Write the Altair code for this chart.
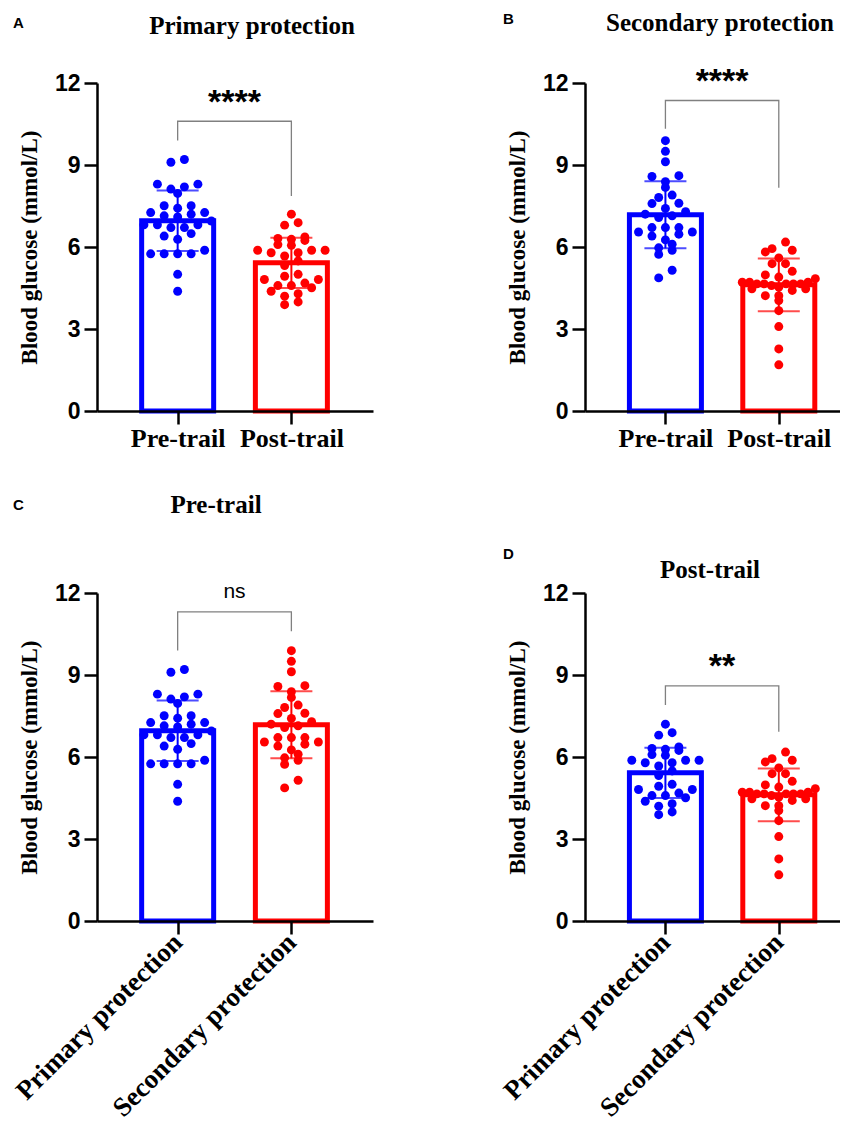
import altair as alt
import pandas as pd
import numpy as np

# ---------------- data ----------------
primary_pre = [9.20, 9.10, 8.20, 8.30, 8.30, 8.12, 7.96, 7.42, 7.51, 7.26, 7.20, 7.51, 7.26,
               7.14, 7.10, 6.71, 6.81, 6.95, 6.81, 6.81, 6.71, 6.28, 6.40, 6.49, 5.88, 5.75,
               5.75, 5.75, 5.75, 5.00, 4.38]
primary_post = [7.20, 6.89, 6.80, 6.37, 6.28, 6.31, 6.24, 6.09, 6.06, 5.88, 5.88, 5.88, 5.79,
                5.79, 5.67, 5.49, 5.32, 5.00, 4.93, 4.81, 4.68, 4.59, 4.59, 4.81, 4.51, 4.38,
                4.20, 4.29, 3.89, 3.99]
secondary_pre = [9.89, 9.50, 9.12, 8.61, 8.58, 8.39, 8.18, 7.90, 7.81, 7.60, 7.59, 7.41, 7.29,
                 7.14, 7.08, 6.71, 6.71, 6.71, 6.55, 6.55, 6.40, 6.47, 6.26, 6.10, 5.88, 5.97,
                 5.73, 5.15, 4.87, 7.20]
secondary_post = [6.18, 5.88, 5.94, 5.82, 5.60, 5.39, 5.39, 5.11, 4.98, 4.84, 4.90, 4.71, 4.65,
                  4.65, 4.65, 4.71, 4.65, 4.71, 4.65, 4.59, 4.47, 4.47, 4.53, 4.41, 4.22, 4.22,
                  4.04, 3.67, 3.09, 2.27, 1.69]

panel_letters = ["A", "B", "C", "D"]
panel_titles = ["Primary protection", "Secondary protection", "Pre-trail", "Post-trail"]
trial_groups = ["Pre-trail", "Post-trail"]
protection_groups = ["Primary protection", "Secondary protection"]
panel_groups = [trial_groups, trial_groups, protection_groups, protection_groups]
panel_series = [(primary_pre, primary_post), (secondary_pre, secondary_post),
                (primary_pre, secondary_pre), (primary_post, secondary_post)]
sig_labels = ["****", "****", "ns", "**"]
bracket_top = [10.60, 11.36, 11.31, 8.60]
bracket_left = [9.90, 10.33, 9.90, 7.90]
bracket_right = [7.87, 8.17, 10.60, 6.92]
sig_y = [10.92, 11.66, 11.82, 8.92]
y_ticks = [0, 3, 6, 9, 12]
colors = ["#0000FF", "#FF0000"]
y_title = "Blood glucose (mmol/L)"

# ---------------- layout / style ----------------
W_LEFT, W_RIGHT, H = 276, 255, 328
STEP = 118.0          # px between the two group centres
PAD_L = 78.5          # px from the y axis to the first group centre
BW = 72.0             # bar width (px)
PPU = H / 12.0
ROW = 9.5             # px height of a swarm row
DX = 14.0             # px horizontal spacing of dots in a row
MAXW = 76.0           # max swarm width (px)

title_x = [155, 135, 119, 125]
title_y = [-49, -52, -80, -15]
letter_x = [-84, -82, -84, -82]
letter_y = [-55, -59, -83, -34]

SERIF = "Liberation Serif"
SANS = "Liberation Sans"


def swarm(values):
    """Row-binned dot layout (GraphPad style): horizontal pixel offsets."""
    vals = np.asarray(values, dtype=float)
    bins = np.floor(vals * PPU / ROW).astype(int)
    offs = np.zeros(len(vals))
    for b in np.unique(bins):
        idx = np.where(bins == b)[0]
        idx = idx[np.argsort(vals[idx])]
        n = len(idx)
        sp = DX if n <= 1 else min(DX, MAXW / (n - 1))
        slots = [(j - (n - 1) / 2.0) * sp for j in range(n)]
        slots = sorted(slots, key=lambda s: (abs(s), s))
        for k, i in enumerate(idx):
            offs[i] = slots[k]
    return list(offs)


yaxis = alt.Axis(values=y_ticks, title=y_title, titleFont=SERIF, titleFontWeight="bold",
                 titleFontSize=23, titleColor="black", titlePadding=13,
                 labelFont=SANS, labelFontWeight="bold", labelFontSize=23, labelColor="black",
                 labelPadding=4, tickSize=13, tickWidth=2.5, tickColor="black",
                 domainColor="black", domainWidth=2.5, grid=False, zindex=1)


def xaxis(i, cats):
    expr = f"datum.value == 0 ? '{cats[0]}' : '{cats[1]}'"
    common = dict(title=None, values=[0, 1], labelExpr=expr, labelFont=SERIF,
                  labelFontWeight="bold", labelColor="black",
                  labelFlush=False, labelOverlap=False, labelLimit=0,
                  tickSize=13, tickWidth=2.5, tickColor="black",
                  domainColor="black", domainWidth=2.5, grid=False, zindex=1)
    if i < 2:
        return alt.Axis(labelAngle=0, labelPadding=1, labelFontSize=26, **common)
    return alt.Axis(labelAngle=-45, labelAlign="right", labelBaseline="middle",
                    labelPadding=4, labelFontSize=27, **common)


def panel(i):
    cats = panel_groups[i]
    s1, s2 = panel_series[i]
    W = W_LEFT if i % 2 == 0 else W_RIGHT
    off = swarm(s1) + swarm(s2)
    idx = [0] * len(s1) + [1] * len(s2)
    pts = pd.DataFrame({
        "group": [cats[0]] * len(s1) + [cats[1]] * len(s2),
        "idx": idx,
        "value": list(s1) + list(s2),
        "xq": [g + o / STEP for g, o in zip(idx, off)],
    })
    xscale = alt.Scale(domain=[-PAD_L / STEP, (W - PAD_L) / STEP], nice=False, zero=False)
    xax = xaxis(i, cats)

    def X(field):
        return alt.X(field, scale=xscale, axis=xax, title=None)

    yscale = alt.Scale(domain=[0, 12], nice=False)

    def Y(field):
        return alt.Y(field, scale=yscale, axis=yaxis, title=y_title)

    col_scale = alt.Scale(domain=cats, range=colors)
    base = alt.Chart(pts)
    bars = base.mark_bar(width=BW, fill="white", strokeWidth=5, orient="vertical").encode(
        x=X("idx:Q"), y=Y("mean(value):Q"),
        stroke=alt.Stroke("group:N", scale=col_scale, legend=None))
    dots = base.mark_circle(size=80, opacity=1).encode(
        x=X("xq:Q"), y=Y("value:Q"),
        color=alt.Color("group:N", scale=col_scale, legend=None))

    stats = base.transform_aggregate(
        m="mean(value)", sd="stdev(value)", groupby=["idx", "group"]
    ).transform_calculate(lo="datum.m - datum.sd", hi="datum.m + datum.sd")
    err_rule = stats.mark_rule(strokeWidth=2).encode(
        x=X("idx:Q"), y=Y("lo:Q"), y2="hi:Q",
        color=alt.Color("group:N", scale=col_scale, legend=None))
    err_caps = stats.transform_fold(["lo", "hi"], as_=["k", "yv"]).mark_tick(
        orient="horizontal", size=42, thickness=2).encode(
        x=X("idx:Q"), y=Y("yv:Q"),
        color=alt.Color("group:N", scale=col_scale, legend=None))

    br = pd.DataFrame({
        "gx": [0, 0, 1, 1],
        "y": [bracket_left[i], bracket_top[i], bracket_top[i], bracket_right[i]],
        "order": [0, 1, 2, 3],
    })
    bracket = alt.Chart(br).mark_line(color="#808080", strokeWidth=1.3).encode(
        x=X("gx:Q"), y=Y("y:Q"), order="order:Q")

    sig = pd.DataFrame({"gx": [0.5], "y": [sig_y[i]], "label": [sig_labels[i]]})
    if sig_labels[i] == "ns":
        sig_mark = alt.Chart(sig).mark_text(align="center", baseline="alphabetic",
                                            font=SANS, fontSize=21, color="black")
    else:
        sig_mark = alt.Chart(sig).mark_text(align="center", baseline="alphabetic",
                                            font=SANS, fontWeight="bold", fontSize=34,
                                            color="black")
    sig_text = sig_mark.encode(x=X("gx:Q"), y=Y("y:Q"), text="label:N")

    ttl = alt.Chart(pd.DataFrame({"t": [panel_titles[i]]})).mark_text(
        align="center", baseline="alphabetic", font=SERIF, fontWeight="bold",
        fontSize=25, color="black").encode(
        x=alt.value(title_x[i]), y=alt.value(title_y[i]), text="t:N")
    let = alt.Chart(pd.DataFrame({"t": [panel_letters[i]]})).mark_text(
        align="left", baseline="alphabetic", font=SANS, fontWeight="bold",
        fontSize=15, color="black").encode(
        x=alt.value(letter_x[i]), y=alt.value(letter_y[i]), text="t:N")

    return alt.layer(bars, dots, err_rule, err_caps, bracket, sig_text, ttl, let
                     ).properties(width=W, height=H)


chart = alt.concat(*[panel(i) for i in range(4)], columns=2,
                   spacing=alt.RowColnumber(row=182, column=212), bounds="flush"
                   ).configure_view(stroke=None).resolve_scale(
    x="independent", y="independent").properties(
    padding={"left": 2, "top": 3, "right": 0, "bottom": 0})

chart.save("out.html", embed_options={"renderer": "svg", "actions": False})
